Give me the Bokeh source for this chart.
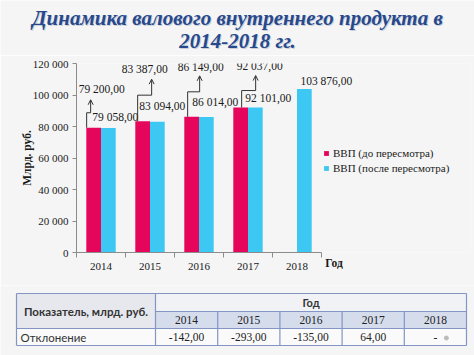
from bokeh.plotting import figure
from bokeh.models import Range1d, FixedTicker, Legend, LegendItem, Arrow, OpenHead, LinearAxis
from bokeh.embed import file_html
from bokeh.resources import INLINE
from bokeh.core.properties import value

# ---------------- data ----------------
years = ["2014", "2015", "2016", "2017", "2018"]
gdp_before = [79200.0, 83387.0, 86149.0, 92037.0, float("nan")]   # ВВП (до пересмотра)
gdp_after = [79058.0, 83094.0, 86014.0, 92101.0, 103876.0]        # ВВП (после пересмотра)
y_ticks = [0, 20000, 40000, 60000, 80000, 100000, 120000]
deviation = [-142.0, -293.0, -135.0, 64.0, None]

title_lines = ["Динамика валового внутреннего продукта в", "2014-2018 гг."]
series_names = ["ВВП (до пересмотра)", "ВВП (после пересмотра)"]
y_label = "Млрд. руб."
x_label = "Год"
table_head = "Показатель, млрд. руб."
table_row = "Отклонение"

# ---------------- style / layout ----------------
W = 474
BG = "#F5F5F5"
RED = "#E5055B"
BLUE = "#3DC8F3"
SERIF = "Times New Roman"
SANS = "Lato"
FRAME_L, AXIS_R, FRAME_R = 76, 321, 470
FRAME_W = AXIS_R - FRAME_L                     # width of the five year slots
Y_MAX = 120000
FRAME_H = 189
BAR_W = 0.3
PX_X = len(years) / FRAME_W
PX_Y = Y_MAX / FRAME_H
X_END = (FRAME_R - FRAME_L) * PX_X

# label offsets in pixels (right, up) from the bar top
blue_lbl_dx = [7, 5, 9, 13, 22]
blue_lbl_dy = [10.5, 16, 15.5, 9, 7.5]
red_lbl_dx = [8, 2, 9, 19]
red_lbl_dy = [39, 52, 50, 42]
# leader arrows: start dx, elbow dy, jog dx, tip dy (pixels)
arr_start_dx = [-7, -5, -4, 1]
arr_elbow_dy = [15, 26, 25, 17]
arr_jog_dx = [-3, 9, 8, 15]
arr_tip_dy = [28, 42, 41, 32]


def fmt(v):
    return f"{v:,.2f}".replace(",", " ").replace(".", ",")


def plain(fig):
    fig.grid.visible = False
    fig.outline_line_color = None
    fig.background_fill_color = BG
    fig.border_fill_color = BG


# ---------------- title ----------------
t = figure(width=W, height=55, x_range=Range1d(0, W), y_range=Range1d(55, 0),
           output_backend="svg", toolbar_location=None, min_border=0,
           x_axis_location=None, y_axis_location=None)
plain(t)
t.text(x=[W / 2 + 1, W / 2 + 1], y=[18, 41], text=title_lines, text_font=value(SERIF),
       text_font_style="bold italic", text_font_size="21px", text_color="#B8BFCC",
       text_align="center", text_baseline="middle", text_alpha=0.7)
t.text(x=[W / 2, W / 2], y=[17, 40], text=title_lines, text_font=value(SERIF),
       text_font_style="bold italic", text_font_size="21px", text_color="#27498C",
       text_align="center", text_baseline="middle")

# ---------------- chart ----------------
centers = [i + 0.5 for i in range(len(years))]
red_x = [c - BAR_W / 2 for c in centers]
blue_x = [c + BAR_W / 2 for c in centers]

p = figure(width=W, height=230, x_range=Range1d(0, X_END), y_range=Range1d(0, Y_MAX),
           output_backend="svg", toolbar_location=None,
           min_border_left=FRAME_L, min_border_right=W - FRAME_R, min_border_top=8,
           min_border_bottom=33)
plain(p)

r_red = p.vbar(x=red_x, top=gdp_before, width=BAR_W, fill_color=RED, line_color=None)
r_blue = p.vbar(x=blue_x, top=gdp_after, width=BAR_W, fill_color=BLUE, line_color=None)

# value labels
p.text(x=blue_x, y=gdp_after, text=[fmt(v) for v in gdp_after],
       x_offset=blue_lbl_dx, y_offset=[-d for d in blue_lbl_dy],
       text_font=value(SERIF), text_font_size="11.5px", text_color="#1A1A1A",
       text_align="center", text_baseline="middle")
n_red = len(red_lbl_dx)
p.text(x=red_x[:n_red], y=gdp_before[:n_red], text=[fmt(v) for v in gdp_before[:n_red]],
       x_offset=red_lbl_dx, y_offset=[-d for d in red_lbl_dy],
       text_font=value(SERIF), text_font_size="11.5px", text_color="#1A1A1A",
       text_align="center", text_baseline="middle")

# leader arrows
xs, ys = [], []
for i in range(n_red):
    x0 = red_x[i] + arr_start_dx[i] * PX_X
    x1 = red_x[i] + arr_jog_dx[i] * PX_X
    y0 = gdp_before[i]
    y1 = y0 + arr_elbow_dy[i] * PX_Y
    y2 = y0 + arr_tip_dy[i] * PX_Y
    xs.append([x0, x0, x1])
    ys.append([y0, y1, y1])
    p.add_layout(Arrow(end=OpenHead(size=5, line_color="#333333", line_width=1),
                       x_start=x1, y_start=y1, x_end=x1, y_end=y2,
                       line_color="#333333", line_width=1))
p.multi_line(xs=xs, ys=ys, line_color="#333333", line_width=1)

# axes
p.xaxis.bounds = (0, len(years))
p.xaxis.ticker = FixedTicker(ticks=centers, minor_ticks=list(range(len(years) + 1)))
p.xaxis.major_label_overrides = {c: y for c, y in zip(centers, years)}
p.xaxis.major_tick_out = 0
p.xaxis.major_tick_in = 0
p.xaxis.minor_tick_out = 5
p.xaxis.minor_tick_in = 0
p.xaxis.major_label_standoff = 5
p.yaxis.ticker = FixedTicker(ticks=y_ticks, minor_ticks=[])
p.yaxis.major_label_overrides = {v: f"{v:,}".replace(",", " ") for v in y_ticks}
p.yaxis.major_tick_out = 4
p.yaxis.major_tick_in = 0
p.yaxis.major_label_standoff = 4
p.yaxis.axis_label = y_label
p.yaxis.axis_label_standoff = -3
p.yaxis.axis_label_text_font = SERIF
p.yaxis.axis_label_text_font_style = "bold"
p.yaxis.axis_label_text_font_size = "11.5px"
p.yaxis.axis_label_text_color = "#1A1A1A"
for ax in (p.xaxis, p.yaxis):
    ax.axis_line_color = "#8C8C8C"
    ax.major_tick_line_color = "#8C8C8C"
    ax.minor_tick_line_color = "#8C8C8C"
    ax.major_label_text_font = SERIF
    ax.major_label_text_font_size = "11px"
    ax.major_label_text_color = "#1A1A1A"
p.yaxis.minor_tick_line_color = None

# "Год" caption to the right of the category axis
god_x = len(years) + 12.5 * PX_X
god_axis = LinearAxis(ticker=FixedTicker(ticks=[god_x], minor_ticks=[]),
                      major_label_overrides={god_x: x_label},
                      axis_line_color=None, major_tick_line_color=None, minor_tick_line_color=None,
                      major_label_standoff=-22, major_label_text_font=SERIF,
                      major_label_text_font_style="bold", major_label_text_font_size="11.5px",
                      major_label_text_color="#1A1A1A")
p.add_layout(god_axis, "below")

legend = Legend(items=[LegendItem(label=series_names[0], renderers=[r_red]),
                       LegendItem(label=series_names[1], renderers=[r_blue])],
                location=(FRAME_W + 2, 77), padding=0, margin=0, spacing=0,
                glyph_width=6, glyph_height=6, label_height=15, label_standoff=4,
                label_text_font=SERIF, label_text_font_size="11px", label_text_color="#1A1A1A",
                background_fill_alpha=0, border_line_color=None)
p.add_layout(legend)

# ---------------- table ----------------
tb = figure(width=W, height=70, x_range=Range1d(0, W), y_range=Range1d(355, 285),
            output_backend="svg", toolbar_location=None, min_border=0,
            x_axis_location=None, y_axis_location=None)
plain(tb)
T_L, T_R, C0 = 16, 466, 155
R0, R1, R2, R3 = 293, 311, 328, 345
n = len(years)
cw = (T_R - C0) / n
col_l = [C0 + i * cw for i in range(n)]
col_r = [C0 + (i + 1) * cw for i in range(n)]
col_c = [C0 + (i + 0.5) * cw for i in range(n)]
BORDER = "#8494C4"

tb.quad(left=[T_L], right=[C0], top=[R0], bottom=[R2], fill_color="#E6E8EE", line_color=None)
tb.quad(left=[C0], right=[T_R], top=[R0], bottom=[R1], fill_color="#F1F2F6", line_color=None)
tb.quad(left=col_l, right=col_r, top=[R1] * n, bottom=[R2] * n, fill_color="#D5DDEC", line_color=None)
tb.quad(left=[T_L], right=[T_R], top=[R2], bottom=[R3], fill_color="#FAFAFB", line_color=None)
tb.multi_line(xs=[[T_L, T_R], [C0, T_R], [T_L, T_R], [T_L, T_R]],
              ys=[[R0, R0], [R1, R1], [R2, R2], [R3, R3]], line_color=BORDER, line_width=1.2)
tb.multi_line(xs=[[T_L, T_L], [C0, C0], [T_R, T_R]] + [[x, x] for x in col_l[1:]],
              ys=[[R0, R3], [R0, R3], [R0, R3]] + [[R1, R3]] * (n - 1), line_color=BORDER, line_width=1.2)

tb.text(x=[(T_L + C0) / 2], y=[(R0 + R2) / 2], text=[table_head], text_font=value(SANS),
        text_font_style="bold", text_font_size="11.5px", text_color="#333333",
        text_align="center", text_baseline="middle")
tb.text(x=[(C0 + T_R) / 2], y=[(R0 + R1) / 2], text=[x_label], text_font=value(SANS),
        text_font_style="bold", text_font_size="11px", text_color="#333333",
        text_align="center", text_baseline="middle")
tb.text(x=col_c, y=[(R1 + R2) / 2] * n, text=years, text_font=value(SERIF),
        text_font_size="11.5px", text_color="#222222", text_align="center", text_baseline="middle")
tb.text(x=[T_L + 4], y=[(R2 + R3) / 2], text=[table_row], text_font=value(SANS),
        text_font_size="11.5px", text_color="#333333", text_align="left", text_baseline="middle")
tb.text(x=col_c, y=[(R2 + R3) / 2] * n,
        text=[fmt(v) if v is not None else "-" for v in deviation], text_font=value(SERIF),
        text_font_size="11.5px", text_color="#222222", text_align="center", text_baseline="middle")
tb.scatter(x=[col_c[-1] + 11], y=[(R2 + R3) / 2 + 1], size=4, color="#BBBBBB")

open("out.html", "w").write(file_html([t, p, tb], INLINE))
